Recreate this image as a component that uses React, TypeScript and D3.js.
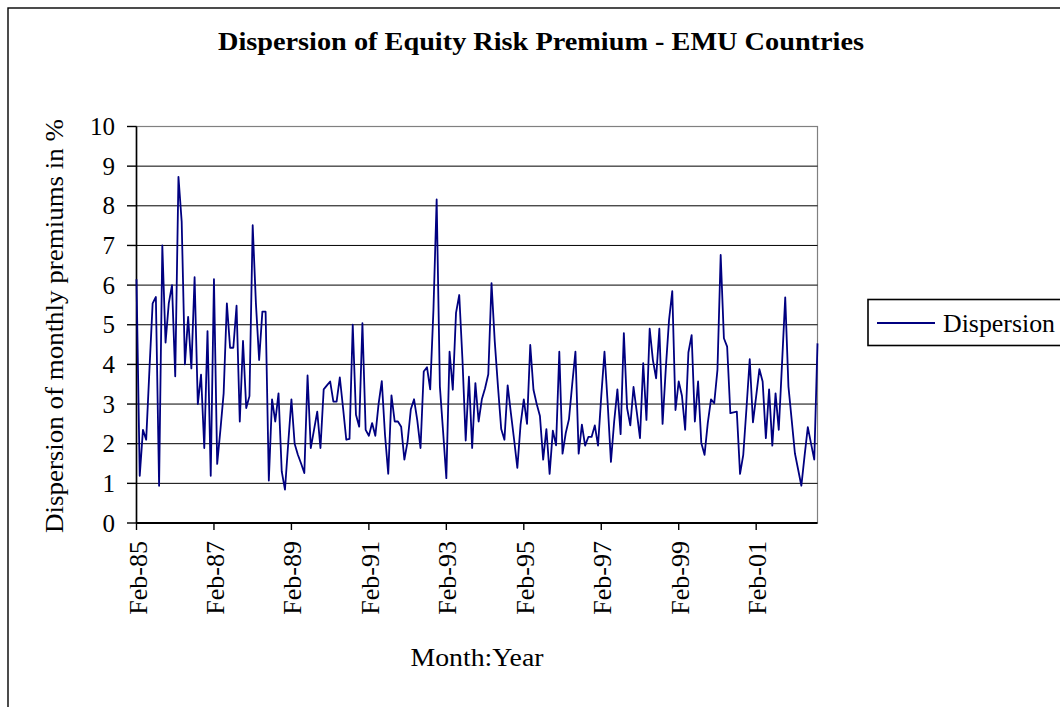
import React from "react";
import * as d3 from "d3";

// Monthly dispersion values, Feb-85 onward
const dispersion: number[] = [
  6.15, 1.19, 2.35, 2.1, 3.85, 5.54, 5.7, 0.94, 7.0, 4.55,
  5.54, 6.0, 3.7, 8.73, 7.6, 4.0, 5.2, 3.9, 6.2, 3.0,
  3.74, 1.89, 4.84, 1.19, 6.15, 1.49, 2.35, 3.27, 5.54, 4.42,
  4.42, 5.48, 2.56, 4.59, 2.9, 3.2, 7.51, 5.54, 4.11, 5.33,
  5.33, 1.07, 3.12, 2.56, 3.27, 1.3, 0.84, 2.0, 3.12, 2.0,
  1.72, 1.5, 1.26, 3.72, 1.89, 2.35, 2.81, 1.89, 3.37, 3.47,
  3.57, 3.06, 3.06, 3.67, 2.9, 2.1, 2.12, 5.0, 2.73, 2.43,
  5.04, 2.35, 2.2, 2.52, 2.2, 3.0, 3.58, 2.22, 1.24, 3.22,
  2.56, 2.56, 2.43, 1.6, 2.06, 2.87, 3.12, 2.59, 1.89, 3.82,
  3.93, 3.37, 5.37, 8.16, 3.44, 2.3, 1.13, 4.32, 3.36, 5.3,
  5.75, 4.11, 2.08, 3.69, 1.89, 3.53, 2.56, 3.12, 3.4, 3.75,
  6.05, 4.58, 3.44, 2.37, 2.1, 3.47, 2.77, 2.1, 1.39, 2.48,
  3.12, 2.5, 4.49, 3.36, 3.0, 2.7, 1.6, 2.37, 1.24, 2.33,
  1.96, 4.32, 1.75, 2.27, 2.62, 3.5, 4.32, 1.75, 2.48, 1.95,
  2.17, 2.17, 2.46, 1.95, 3.2, 4.32, 3.0, 1.54, 2.56, 3.37,
  2.24, 4.79, 2.9, 2.46, 3.43, 2.8, 2.14, 4.03, 2.6, 4.9,
  4.11, 3.65, 4.9, 2.5, 3.9, 5.12, 5.85, 2.85, 3.57, 3.21,
  2.35, 4.3, 4.74, 2.56, 3.57, 2.02, 1.72, 2.52, 3.12, 3.02,
  3.86, 6.76, 4.66, 4.45, 2.77, 2.79, 2.81, 1.24, 1.72, 2.9,
  4.13, 2.54, 3.2, 3.88, 3.57, 2.14, 3.37, 1.95, 3.27, 2.35,
  4.0, 5.69, 3.44, 2.6, 1.76, 1.35, 0.94, 1.7, 2.42, 2.0,
  1.6, 4.53,
];

// Category tick labels, every 24 months
const tickLabels: string[] = [
  "Feb-85", "Feb-87", "Feb-89", "Feb-91", "Feb-93",
  "Feb-95", "Feb-97", "Feb-99", "Feb-01",
];
const tickStep = 24;

const yTicks: number[] = [0, 1, 2, 3, 4, 5, 6, 7, 8, 9, 10];

const titleText = "Dispersion of Equity Risk Premium - EMU Countries";
const yTitle = "Dispersion of monthly premiums in %";
const xTitle = "Month:Year";
const seriesName = "Dispersion";

const FONT = "'Liberation Serif', 'Times New Roman', Times, serif";
const NAVY = "#000080";

export default function App() {
  const W = 1060;
  const H = 707;
  const left = 136.5;
  const right = 817.5;
  const top = 126.5;
  const bottom = 523;

  const x = d3
    .scaleLinear()
    .domain([0, dispersion.length - 1])
    .range([left, right]);
  const y = d3.scaleLinear().domain([0, 10]).range([bottom, top]);

  const line = d3
    .line<number>()
    .x((_, i) => x(i))
    .y((d) => y(d));

  return (
    <div
      style={{
        position: "fixed",
        left: 0,
        top: 0,
        width: W,
        height: H,
        overflow: "hidden",
        background: "#fff",
      }}
    >
      <svg width={W} height={H} style={{ display: "block" }} fontFamily={FONT}>
        <rect x={0} y={0} width={W} height={H} fill="#fff" />
        {/* outer chart border (extends beyond the view on right/bottom) */}
        <rect
          x={8}
          y={8}
          width={1200}
          height={800}
          fill="none"
          stroke="#000"
          strokeWidth={1.4}
        />

        {/* title */}
        <text
          x={541}
          y={50}
          textAnchor="middle"
          fontWeight="bold"
          fontSize={26}
          textLength={646}
          lengthAdjust="spacingAndGlyphs"
        >
          {titleText}
        </text>

        {/* plot area border (top and right, gray) */}
        <rect
          x={left}
          y={top}
          width={right - left}
          height={bottom - top}
          fill="none"
          stroke="#808080"
          strokeWidth={1.2}
        />

        {/* gridlines */}
        {yTicks
          .filter((t) => t > 0 && t < 10)
          .map((t) => (
            <line
              key={"g" + t}
              x1={left}
              x2={right}
              y1={y(t)}
              y2={y(t)}
              stroke="#000"
              strokeWidth={1}
            />
          ))}

        {/* y axis */}
        <line x1={left} x2={left} y1={top} y2={bottom} stroke="#000" strokeWidth={1.6} />
        {yTicks.map((t) => (
          <g key={"yt" + t}>
            <line x1={127} x2={left} y1={y(t)} y2={y(t)} stroke="#000" strokeWidth={1.4} />
            <text
              x={115}
              y={y(t)}
              dy="0.34em"
              textAnchor="end"
              fontSize={25}
            >
              {t}
            </text>
          </g>
        ))}

        {/* x axis */}
        <line x1={left} x2={right} y1={bottom} y2={bottom} stroke="#000" strokeWidth={2} />
        {tickLabels.map((lab, k) => {
          const xi = x(k * tickStep);
          return (
            <g key={"xt" + k}>
              <line x1={xi} x2={xi} y1={bottom} y2={bottom + 7} stroke="#000" strokeWidth={1.4} />
              <text
                transform={`translate(${xi + 1.2},541) rotate(-90)`}
                textAnchor="end"
                dy="0.34em"
                fontSize={26}
              >
                {lab}
              </text>
            </g>
          );
        })}

        {/* data line */}
        <path
          d={line(dispersion) || ""}
          fill="none"
          stroke={NAVY}
          strokeWidth={1.8}
          strokeLinejoin="round"
        />

        {/* y axis title */}
        <text
          transform="translate(63,326) rotate(-90)"
          textAnchor="middle"
          fontSize={26}
          textLength={414}
          lengthAdjust="spacingAndGlyphs"
        >
          {yTitle}
        </text>

        {/* x axis title */}
        <text
          x={477}
          y={666}
          textAnchor="middle"
          fontSize={25}
          textLength={133}
          lengthAdjust="spacingAndGlyphs"
        >
          {xTitle}
        </text>

        {/* legend */}
        <rect
          x={868}
          y={299.5}
          width={300}
          height={46}
          fill="#fff"
          stroke="#000"
          strokeWidth={1.6}
        />
        <line x1={877} x2={935} y1={323} y2={323} stroke={NAVY} strokeWidth={2} />
        <text
          x={943}
          y={332}
          fontSize={26}
          textLength={112}
          lengthAdjust="spacingAndGlyphs"
        >
          {seriesName}
        </text>
      </svg>
    </div>
  );
}
